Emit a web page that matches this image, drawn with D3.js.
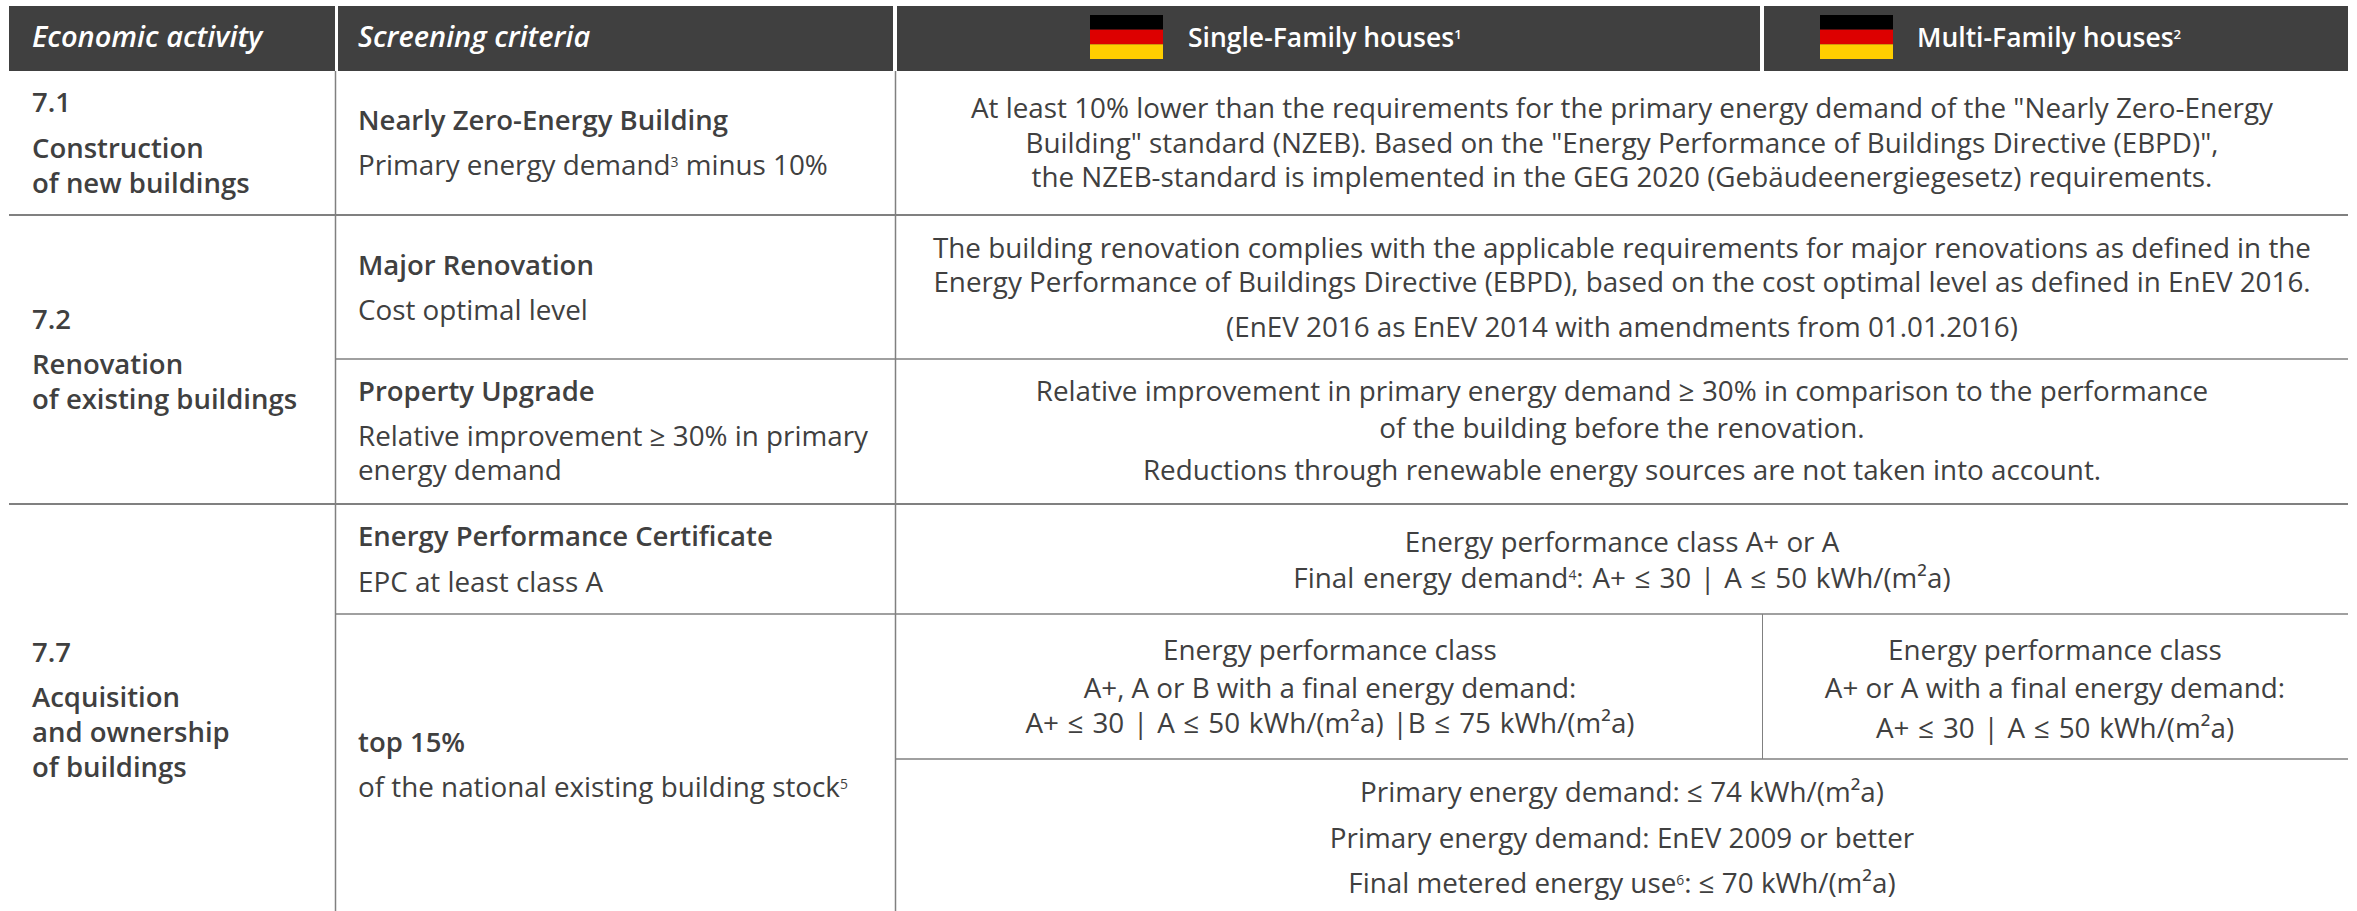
<!DOCTYPE html>
<html><head><meta charset="utf-8">
<script src="https://cdn.jsdelivr.net/npm/d3@7/dist/d3.min.js"></script>
<style>html,body{margin:0;background:#fff}svg{display:block}text{font-family:"Open Sans",sans-serif}</style>
</head><body><svg id="c" width="2357" height="911"></svg>
<script>
const headers = ["Economic activity", "Screening criteria", "Single-Family houses^1", "Multi-Family houses^2"];
const flagColors = ["#000000", "#dd0000", "#ffce00"];
const activities = [
  ["7.1", "Construction", "of new buildings"],
  ["7.2", "Renovation", "of existing buildings"],
  ["7.7", "Acquisition", "and ownership", "of buildings"]
];
const criteriaTitles = ["Nearly Zero-Energy Building", "Major Renovation", "Property Upgrade", "Energy Performance Certificate", "top 15%"];
const criteriaNotes = [
  ["Primary energy demand^3 minus 10%"],
  ["Cost optimal level"],
  ["Relative improvement ≥ 30% in primary", "energy demand"],
  ["EPC at least class A"],
  ["of the national existing building stock^5"]
];
const requirements = [
  ["At least 10% lower than the requirements for the primary energy demand of the \"Nearly Zero-Energy", "Building\" standard (NZEB). Based on the \"Energy Performance of Buildings Directive (EBPD)\",", "the NZEB-standard is implemented in the GEG 2020 (Gebäudeenergiegesetz) requirements."],
  ["The building renovation complies with the applicable requirements for major renovations as defined in the", "Energy Performance of Buildings Directive (EBPD), based on the cost optimal level as defined in EnEV 2016.", "(EnEV 2016 as EnEV 2014 with amendments from 01.01.2016)"],
  ["Relative improvement in primary energy demand ≥ 30% in comparison to the performance", "of the building before the renovation.", "Reductions through renewable energy sources are not taken into account."],
  ["Energy performance class A+ or A", "Final energy demand^4: A+ ≤ 30 | A ≤ 50 kWh/(m²a)"],
  ["Energy performance class", "A+, A or B with a final energy demand:", "A+ ≤ 30 | A ≤ 50 kWh/(m²a) |B ≤ 75 kWh/(m²a)"],
  ["Energy performance class", "A+ or A with a final energy demand:", "A+ ≤ 30 | A ≤ 50 kWh/(m²a)"],
  ["Primary energy demand: ≤ 74 kWh/(m²a)", "Primary energy demand: EnEV 2009 or better", "Final metered energy use^6: ≤ 70 kWh/(m²a)"]
];

const INK = "#404040", RULE = "#808080", RIGHT = 2348;
const svg = d3.select("#c");

function put(str, x, y, o = {}) {
  const fs = o.size || 27.8;
  const t = svg.append("text").attr("x", x).attr("y", y + fs * 0.36)
    .attr("font-size", fs).attr("fill", o.fill || INK)
    .attr("font-weight", o.weight || 400).attr("font-style", o.italic ? "italic" : "normal")
    .attr("text-anchor", o.anchor || "start")
    .attr("word-spacing", str.includes("|") ? 1.6 : 0);
  let pending = 0;
  str.split(/(\^\d)/).filter(Boolean).forEach(p => {
    if (p[0] === "^") {
      t.append("tspan").attr("font-size", fs * 0.5).attr("dy", -fs * 0.3).text(p[1]);
      pending = fs * 0.3;
    } else {
      t.append("tspan").attr("dy", pending).text(p);
      pending = 0;
    }
  });
}

// header band
[[9, 335], [338, 893], [897, 1760], [1764, RIGHT]].forEach(([a, b]) =>
  svg.append("rect").attr("x", a).attr("y", 6).attr("width", b - a).attr("height", 65).attr("fill", "#404040"));
put(headers[0], 32, 37, {fill: "#fff", weight: 600, italic: true, size: 29});
put(headers[1], 358, 37, {fill: "#fff", weight: 600, italic: true, size: 29});
put(headers[2], 1188, 37, {fill: "#fff", weight: 600, size: 26.5});
put(headers[3], 1917, 37, {fill: "#fff", weight: 600, size: 26.5});
[1090, 1820].forEach(x => {
  const band = d3.scaleBand().domain(d3.range(3)).range([15, 59]);
  flagColors.forEach((c, i) => svg.append("rect").attr("x", x).attr("y", band(i)).attr("width", 73).attr("height", band.bandwidth()).attr("fill", c));
});

// rules
const rule = (x1, y1, x2, y2, w = 1.5) => svg.append("line").attr("x1", x1).attr("y1", y1).attr("x2", x2).attr("y2", y2).attr("stroke", RULE).attr("stroke-width", w);
rule(335.5, 71, 335.5, 911); rule(895.5, 71, 895.5, 911);
rule(1762.5, 614, 1762.5, 759, 1);
rule(9, 215, RIGHT, 215, 2); rule(336, 359, RIGHT, 359); rule(9, 504, RIGHT, 504, 2);
rule(336, 614, RIGHT, 614); rule(896, 759, RIGHT, 759);

// text
const activityY = [[102, 148, 183], [319, 364, 399], [652, 697, 732, 767]];
activities.forEach((a, i) => a.forEach((s, j) => put(s, 32, activityY[i][j], {weight: 600, size: 27.5})));
const titleY = [120, 265, 391, 536, 742], noteY = [[165], [310], [436, 470], [582], [787]];
criteriaTitles.forEach((s, i) => put(s, 358, titleY[i], {weight: 600, size: 27.5}));
criteriaNotes.forEach((n, i) => n.forEach((s, j) => put(s, 358, noteY[i][j])));
const reqX = [1622, 1622, 1622, 1622, 1330, 2055, 1622];
const reqY = [[108, 143, 177], [248, 282, 327], [391, 428, 470], [542, 578], [650, 688, 723], [650, 688, 728], [792, 838, 883]];
requirements.forEach((r, i) => r.forEach((s, j) => put(s, reqX[i], reqY[i][j], {anchor: "middle"})));
</script></body></html>
